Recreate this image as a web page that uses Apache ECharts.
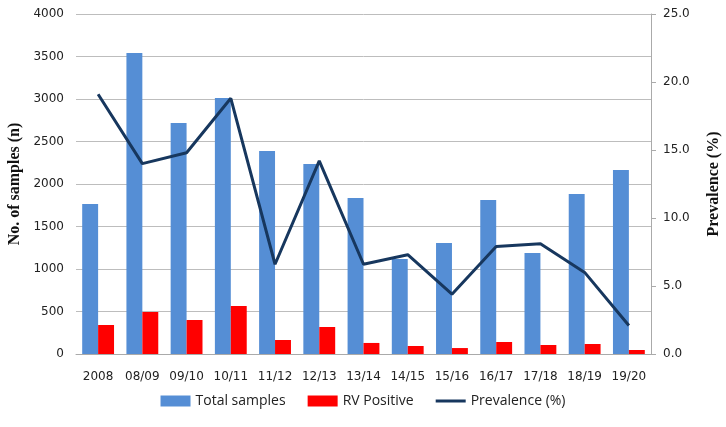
<!DOCTYPE html>
<html>
<head>
<meta charset="utf-8">
<script src="https://cdn.jsdelivr.net/npm/echarts@6/dist/echarts.min.js"></script>
<style>
  html, body { margin: 0; padding: 0; background: #fff; }
  #main { width: 726px; height: 427px; }
</style>
</head>
<body>
<div id="main"></div>
<script>
// seasons on the x axis
var seasons = ['2008', '08/09', '09/10', '10/11', '11/12', '12/13', '13/14', '14/15', '15/16', '16/17', '17/18', '18/19', '19/20']
var totalSamples = [1765, 3541, 2718, 3012, 2388, 2235, 1835, 1118, 1306, 1812, 1188, 1882, 2165]
var rvPositive = [341, 494, 400, 565, 165, 318, 130, 94, 70, 141, 106, 118, 47]
var prevalence = [19.1, 14.0, 14.8, 18.8, 6.6, 14.2, 6.6, 7.3, 4.4, 7.9, 8.1, 6.0, 2.1]

var labelFont = { fontFamily: 'DejaVu Sans', fontSize: 12, color: '#222' }
var titleFont = { fontFamily: 'Liberation Serif', fontSize: 16, fontWeight: 'bold', color: '#111' }

var myChart = echarts.init(document.getElementById('main'))
myChart.setOption({
    animation: false,
    grid: { left: 76, right: 75, top: 14, bottom: 73, outerBoundsMode: 'none', containLabel: false },
    legend: {
        bottom: 14,
        itemGap: 22,
        itemWidth: 30,
        itemHeight: 11,
        textStyle: { fontFamily: 'Open Sans', fontSize: 14, color: '#222' },
        data: [
            { name: 'Total samples', icon: 'rect' },
            { name: 'RV Positive', icon: 'rect' },
            { name: 'Prevalence (%)', icon: 'path://M0,0 L30,0 L30,3 L0,3 Z' }
        ]
    },
    xAxis: {
        type: 'category',
        data: seasons,
        axisTick: { show: false },
        axisLine: { lineStyle: { color: '#aaa' } },
        axisLabel: Object.assign({ margin: 17, interval: 0 }, labelFont)
    },
    yAxis: [{
        type: 'value',
        min: 0, max: 4000, interval: 500,
        name: 'No. of samples (n)',
        nameLocation: 'middle',
        nameGap: 53,
        nameTextStyle: titleFont,
        axisLine: { show: false },
        axisTick: { show: false },
        axisLabel: Object.assign({
            margin: 12,
            formatter: function (v) { return String(v) }
        }, labelFont),
        splitLine: { lineStyle: { color: '#bdbdbd' } }
    }, {
        type: 'value',
        min: 0, max: 25, interval: 5,
        name: 'Prevalence (%)',
        nameLocation: 'middle',
        nameGap: 55,
        nameRotate: 90,
        nameTextStyle: titleFont,
        axisLine: { show: true, lineStyle: { color: '#aaa' } },
        axisTick: { show: true, length: 5, lineStyle: { color: '#aaa' } },
        axisLabel: Object.assign({
            margin: 12,
            formatter: function (v) { return v.toFixed(1) }
        }, labelFont),
        splitLine: { show: false }
    }],
    series: [{
        name: 'Total samples',
        type: 'bar',
        data: totalSamples,
        barGap: '0%',
        barCategoryGap: '28%',
        itemStyle: { color: '#558ed5' }
    }, {
        name: 'RV Positive',
        type: 'bar',
        data: rvPositive,
        itemStyle: { color: '#ff0000' }
    }, {
        name: 'Prevalence (%)',
        type: 'line',
        yAxisIndex: 1,
        data: prevalence,
        showSymbol: false,
        symbol: 'none',
        lineStyle: { color: '#17375e', width: 3 },
        itemStyle: { color: '#17375e' }
    }]
})
</script>
</body>
</html>
